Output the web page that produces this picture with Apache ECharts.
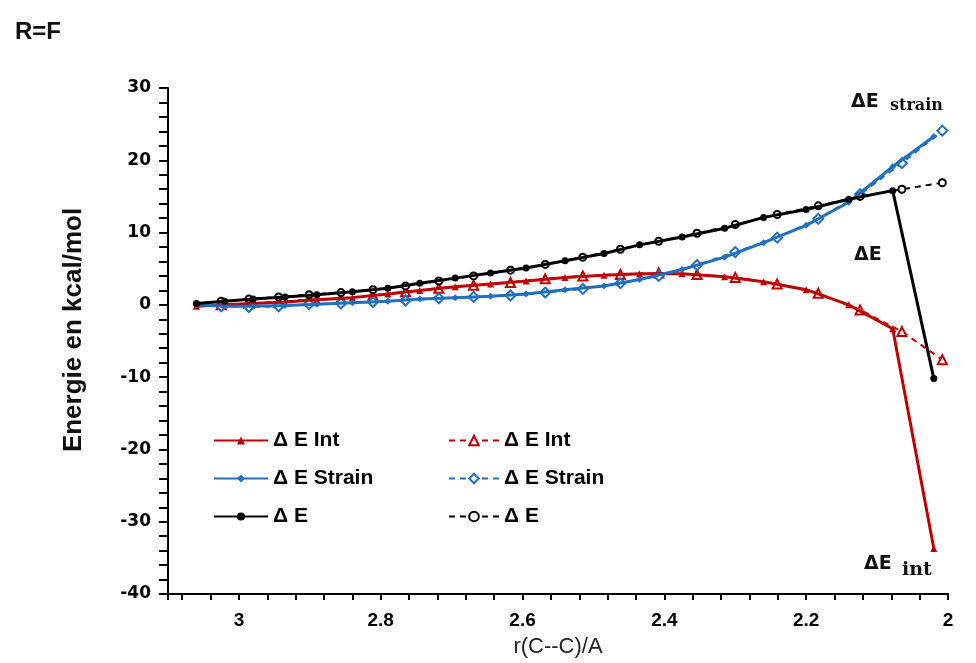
<!DOCTYPE html>
<html>
<head>
<meta charset="utf-8">
<script src="https://cdn.jsdelivr.net/npm/echarts@6/dist/echarts.min.js"></script>
<style>
  html, body { margin: 0; padding: 0; background: #fff; }
  #chart { width: 976px; height: 663px; }
</style>
</head>
<body>
<div id="chart"></div>
<script>
// r(C--C) for the filled-marker scan
var rF = [3.06, 3.02, 2.98, 2.935, 2.89, 2.84, 2.79, 2.745, 2.695, 2.645, 2.595, 2.54, 2.485, 2.435, 2.375, 2.315, 2.26, 2.2, 2.14, 2.078, 2.02];
var intF = [-0.2, 0.0, 0.2, 0.4, 0.7, 1.0, 1.5, 2.0, 2.5, 2.9, 3.3, 3.8, 4.1, 4.3, 4.3, 3.9, 3.2, 2.1, 0.0, -3.3, -33.7];
var strainF = [0.0, -0.2, -0.2, -0.1, 0.1, 0.3, 0.5, 0.8, 1.0, 1.2, 1.5, 2.1, 2.6, 3.5, 4.9, 6.6, 8.6, 11.0, 14.2, 19.1, 23.3];
var eF = [0.2, 0.5, 0.8, 1.1, 1.4, 1.8, 2.3, 3.0, 3.7, 4.4, 5.1, 6.1, 7.1, 8.3, 9.4, 10.6, 12.1, 13.2, 14.6, 15.8, -10.2];

// r(C--C) for the open-marker scan
var rO = [3.025, 2.986, 2.944, 2.901, 2.856, 2.811, 2.765, 2.718, 2.669, 2.617, 2.568, 2.515, 2.462, 2.408, 2.354, 2.3, 2.241, 2.183, 2.124, 2.065, 2.008];
var intO = [0.0, 0.2, 0.4, 0.7, 0.9, 1.3, 1.8, 2.3, 2.7, 3.1, 3.6, 4.0, 4.2, 4.4, 4.2, 3.8, 2.9, 1.6, -0.7, -3.7, -7.6];
var strainO = [-0.2, -0.3, -0.2, 0.1, 0.2, 0.4, 0.6, 0.9, 1.1, 1.3, 1.7, 2.2, 3.0, 4.0, 5.5, 7.3, 9.3, 11.9, 15.3, 19.6, 24.1];
var eO = [0.5, 0.8, 1.1, 1.4, 1.7, 2.1, 2.6, 3.3, 4.0, 4.8, 5.6, 6.6, 7.7, 8.8, 9.9, 11.1, 12.5, 13.7, 15.0, 16.0, 16.9];

var legendNames = {
  intF: 'Δ E Int', strainF: 'Δ E Strain', eF: 'Δ E',
  intO: 'Δ E Int', strainO: 'Δ E Strain', eO: 'Δ E'
};

var RED = '#c00000', BLUE = '#1f70c1', BLACK = '#000000';

function pairs(xs, ys) {
  return xs.map(function (x, i) { return [x, ys[i]]; });
}

var myChart = echarts.init(document.getElementById('chart'));

var legendText = { fontSize: 21, fontWeight: 'bold', fontFamily: 'Liberation Sans', color: '#000' };

// open series (dashed) go first so the full lines sit on top
function openSeries(id, xs, ys, color, symbol, size) {
  return {
    name: id, type: 'line', data: pairs(xs, ys),
    symbol: symbol, symbolSize: size,
    lineStyle: { color: color, width: 2, type: [6, 5] },
    itemStyle: { color: color, borderWidth: 1.5 },
    z: 2
  };
}
function fullSeries(id, xs, ys, color, symbol, size, z) {
  return {
    name: id, type: 'line', data: pairs(xs, ys),
    symbol: symbol, symbolSize: size,
    lineStyle: { color: color, width: 3 },
    itemStyle: { color: color },
    z: z
  };
}

myChart.setOption({
  animation: false,
  title: {
    text: 'R=F', left: 10, top: 15,
    textStyle: { fontSize: 24, fontWeight: 'bold', fontFamily: 'Liberation Sans', color: '#111' }
  },
  grid: { left: 168, right: 28, top: 88, bottom: 66 },
  legend: [{
    data: ['intF', 'strainF', 'eF'],
    orient: 'vertical', left: 208, top: 425, itemGap: 17,
    itemWidth: 54, itemHeight: 10,
    formatter: function (n) { return legendNames[n]; },
    textStyle: legendText
  }, {
    data: ['intO', 'strainO', 'eO'],
    orient: 'vertical', left: 443, top: 425, itemGap: 17,
    itemWidth: 50, itemHeight: 12,
    formatter: function (n) { return legendNames[n]; },
    textStyle: legendText
  }],
  xAxis: {
    type: 'value', min: 2, max: 3.1, interval: 0.04, inverse: true,
    name: 'r(C--C)/A', nameLocation: 'middle', nameGap: 42,
    nameTextStyle: { fontSize: 22, fontFamily: 'Liberation Sans', color: '#222' },
    axisLine: { onZero: false, lineStyle: { color: '#000', width: 2 } },
    axisTick: { length: 6, lineStyle: { color: '#000', width: 2 } },
    axisLabel: {
      margin: 17, fontSize: 19, fontWeight: 'bold', fontFamily: 'Liberation Sans', color: '#000',
      formatter: function (v) {
        var k = Math.round(v * 100);
        return k % 20 === 0 ? String(k / 100) : '';
      }
    },
    splitLine: { show: false }
  },
  yAxis: {
    type: 'value', min: -40, max: 30, interval: 2,
    axisLine: { show: true, onZero: false, lineStyle: { color: '#000', width: 2 } },
    axisTick: { show: true, length: 9, lineStyle: { color: '#000', width: 2 } },
    axisLabel: {
      margin: 17, fontSize: 17, fontWeight: 'bold', fontFamily: 'DejaVu Sans', color: '#000',
      formatter: function (v) {
        var k = Math.round(v);
        return k % 10 === 0 ? String(k) : '';
      }
    },
    splitLine: { show: false }
  },
  graphic: [
    // y axis title, placed by hand since it sits above the axis middle
    { type: 'text', x: 74, y: 330, rotation: Math.PI / 2,
      style: { text: 'Energie en kcal/mol', font: 'bold 26px "Liberation Sans"', fill: '#111', align: 'center', verticalAlign: 'middle' } },
    { type: 'text', left: 851, top: 93, style: { text: 'ΔE', font: 'bold 19px "DejaVu Sans"', fill: '#111' } },
    { type: 'text', left: 890, top: 98, style: { text: 'strain', font: 'bold 16px "DejaVu Serif"', fill: '#111' } },
    { type: 'text', left: 854, top: 246, style: { text: 'ΔE', font: 'bold 19px "DejaVu Sans"', fill: '#111' } },
    { type: 'text', left: 864, top: 555, style: { text: 'ΔE', font: 'bold 19px "DejaVu Sans"', fill: '#111' } },
    { type: 'text', left: 902, top: 561, style: { text: 'int', font: 'bold 19px "DejaVu Serif"', fill: '#111' } }
  ],
  series: [
    openSeries('intO', rO, intO, RED, 'emptyTriangle', 9),
    openSeries('strainO', rO, strainO, BLUE, 'emptyDiamond', 10),
    openSeries('eO', rO, eO, BLACK, 'emptyCircle', 7),
    fullSeries('intF', rF, intF, RED, 'triangle', 7, 3),
    fullSeries('strainF', rF, strainF, BLUE, 'diamond', 7, 4),
    fullSeries('eF', rF, eF, BLACK, 'circle', 7, 5)
  ]
});
</script>
</body>
</html>
